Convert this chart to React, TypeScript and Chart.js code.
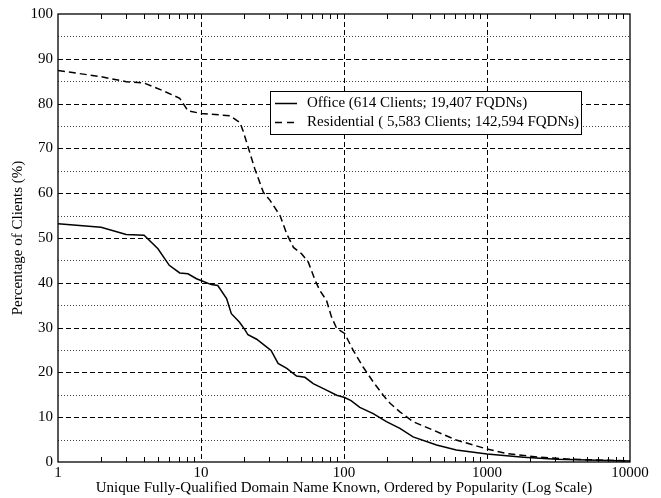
import React, { useEffect, useRef } from "react";
import { Chart, registerables } from "chart.js";

Chart.register(...registerables);

const xTickValues = [1, 10, 100, 1000, 10000];
const yTickValues = [0, 10, 20, 30, 40, 50, 60, 70, 80, 90, 100];
const yMinorValues = [5, 15, 25, 35, 45, 55, 65, 75, 85, 95];

const officeX = [1, 2, 3, 4, 5, 6, 7.1, 8.1, 9.3, 10, 11.8, 13.1, 15.1, 16.3, 18.6, 20.2, 21.3, 24.5, 28.7, 30.9, 34.6, 39.8, 46.6, 53.3, 60.9, 73.6, 88.9, 101, 112, 129, 160, 198, 246, 304, 444, 610, 1000, 1800, 3070, 10000];
const officeY = [53.2, 52.4, 50.8, 50.6, 47.6, 43.9, 42.2, 42.0, 40.9, 40.5, 39.6, 39.4, 36.5, 33.1, 31.2, 29.6, 28.4, 27.4, 25.7, 24.9, 22.0, 20.9, 19.2, 18.9, 17.5, 16.2, 14.9, 14.4, 13.7, 12.2, 10.8, 9.0, 7.5, 5.6, 3.8, 2.7, 1.8, 1.05, 0.6, 0.2];

const resX = [1, 2, 3, 4, 5.4, 7.1, 8.1, 10, 15.9, 18.7, 19.7, 21.4, 23.8, 27.3, 30.4, 35.7, 39.8, 44.3, 50.5, 56.3, 62.9, 67.7, 75.4, 81.7, 88.9, 101, 116, 136, 160, 188, 210, 246, 304, 421, 610, 1000, 1370, 2350, 4000, 10000];
const resY = [87.4, 86.0, 84.9, 84.6, 82.9, 81.2, 78.4, 77.8, 77.3, 75.8, 73.9, 70.2, 65.4, 60.2, 58.4, 55.0, 50.9, 47.9, 46.5, 44.6, 40.5, 38.3, 36.1, 32.4, 29.8, 28.7, 24.9, 21.2, 17.9, 14.9, 13.1, 11.2, 9.0, 7.1, 4.9, 2.9, 1.9, 1.05, 0.6, 0.25];

const seriesLabels = [
  "Office (614 Clients; 19,407 FQDNs)",
  "Residential ( 5,583 Clients; 142,594 FQDNs)",
];
const xTitle = "Unique Fully-Qualified Domain Name Known, Ordered by Popularity (Log Scale)";
const yTitle = "Percentage of Clients (%)";

const FONT = "'Liberation Serif', 'Times New Roman', serif";
const FS = 15;

const decoPlugin = {
  id: "deco",
  beforeDatasetsDraw(chart: any) {
    const { ctx, chartArea: a, scales } = chart;
    const x = scales.x;
    const y = scales.y;
    ctx.save();
    ctx.lineWidth = 1;
    ctx.strokeStyle = "#444";
    ctx.setLineDash([1, 2]);
    yMinorValues.forEach((v) => {
      const py = Math.round(y.getPixelForValue(v)) + 0.5;
      ctx.beginPath();
      ctx.moveTo(a.left, py);
      ctx.lineTo(a.right, py);
      ctx.stroke();
    });
    ctx.strokeStyle = "#000";
    ctx.setLineDash([5, 3]);
    yTickValues.slice(1, -1).forEach((v) => {
      const py = Math.round(y.getPixelForValue(v)) + 0.5;
      ctx.beginPath();
      ctx.moveTo(a.left, py);
      ctx.lineTo(a.right, py);
      ctx.stroke();
    });
    xTickValues.slice(1, -1).forEach((v) => {
      const px = Math.round(x.getPixelForValue(v)) + 0.5;
      ctx.beginPath();
      ctx.moveTo(px, a.top);
      ctx.lineTo(px, a.bottom);
      ctx.stroke();
    });
    ctx.restore();
  },
  afterDatasetsDraw(chart: any) {
    const { ctx, chartArea: a, scales } = chart;
    const x = scales.x;
    ctx.save();
    ctx.setLineDash([]);
    ctx.strokeStyle = "#000";
    ctx.lineWidth = 1;
    for (let d = 0; d < xTickValues.length - 1; d++) {
      for (let m = 2; m <= 9; m++) {
        const px = Math.round(x.getPixelForValue(xTickValues[d] * m)) + 0.5;
        ctx.beginPath();
        ctx.moveTo(px, a.bottom);
        ctx.lineTo(px, a.bottom - 5);
        ctx.moveTo(px, a.top);
        ctx.lineTo(px, a.top + 5);
        ctx.stroke();
      }
    }
    ctx.lineWidth = 1.3;
    ctx.strokeRect(a.left, a.top, a.right - a.left, a.bottom - a.top);

    // legend
    const lx = 270, ly = 91, lw = 311, lh = 43;
    ctx.fillStyle = "#fff";
    ctx.fillRect(lx, ly, lw, lh);
    ctx.lineWidth = 1;
    ctx.strokeRect(lx + 0.5, ly + 0.5, lw, lh);
    ctx.font = `${FS}px ${FONT}`;
    ctx.textBaseline = "middle";
    ctx.textAlign = "left";
    ctx.fillStyle = "#000";
    const rows = [ly + 12.5, ly + 31.5];
    rows.forEach((ry, i) => {
      ctx.lineWidth = 1.5;
      ctx.setLineDash(i === 0 ? [] : [7, 5]);
      ctx.beginPath();
      ctx.moveTo(lx + 5, ry);
      ctx.lineTo(lx + 27, ry);
      ctx.stroke();
      ctx.setLineDash([]);
      ctx.fillText(seriesLabels[i], lx + 37, ry);
    });

    // axis titles
    ctx.font = `${FS}px ${FONT}`;
    ctx.textAlign = "center";
    ctx.textBaseline = "middle";
    ctx.fillText(xTitle, (a.left + a.right) / 2, 488.5);
    ctx.translate(18, (a.top + a.bottom) / 2);
    ctx.rotate(-Math.PI / 2);
    ctx.fillText(yTitle, 0, 0);
    ctx.restore();
  },
};

export default function App() {
  const ref = useRef<HTMLCanvasElement | null>(null);
  useEffect(() => {
    if (!ref.current) return;
    const mk = (xs: number[], ys: number[]) => xs.map((v, i) => ({ x: v, y: ys[i] }));
    const chart = new Chart(ref.current, {
      type: "line",
      data: {
        datasets: [
          {
            label: seriesLabels[0],
            data: mk(officeX, officeY),
            borderColor: "#000",
            borderWidth: 1.5,
            pointRadius: 0,
            tension: 0,
            fill: false,
          },
          {
            label: seriesLabels[1],
            data: mk(resX, resY),
            borderColor: "#000",
            borderWidth: 1.5,
            borderDash: [7, 4],
            pointRadius: 0,
            tension: 0,
            fill: false,
          },
        ],
      },
      options: {
        animation: false,
        responsive: false,
        devicePixelRatio: 1,
        layout: { padding: { top: 13, right: 31, bottom: 0, left: 0 } },
        plugins: { legend: { display: false }, tooltip: { enabled: false } },
        scales: {
          x: {
            type: "logarithmic",
            min: 1,
            max: 10000,
            grid: { display: false, drawTicks: false },
            border: { display: false },
            afterBuildTicks: (s: any) => {
              s.ticks = xTickValues.map((v) => ({ value: v }));
            },
            afterFit: (s: any) => {
              s.height = 36;
            },
            ticks: {
              autoSkip: false,
              maxRotation: 0,
              padding: 2,
              color: "#000",
              font: { family: FONT, size: FS },
              callback: (v: any) => String(v),
            },
          },
          y: {
            type: "linear",
            min: 0,
            max: 100,
            grid: { display: false, drawTicks: false },
            border: { display: false },
            afterBuildTicks: (s: any) => {
              s.ticks = yTickValues.map((v) => ({ value: v }));
            },
            afterFit: (s: any) => {
              s.width = 58;
            },
            ticks: {
              padding: 5,
              color: "#000",
              font: { family: FONT, size: FS },
            },
          },
        },
      },
      plugins: [decoPlugin],
    });
    return () => chart.destroy();
  }, []);
  return (
    <div style={{ position: "fixed", left: 0, top: 0, width: 661, height: 498, background: "#fff" }}>
      <canvas ref={ref} width={661} height={498} style={{ display: "block" }} />
    </div>
  );
}
